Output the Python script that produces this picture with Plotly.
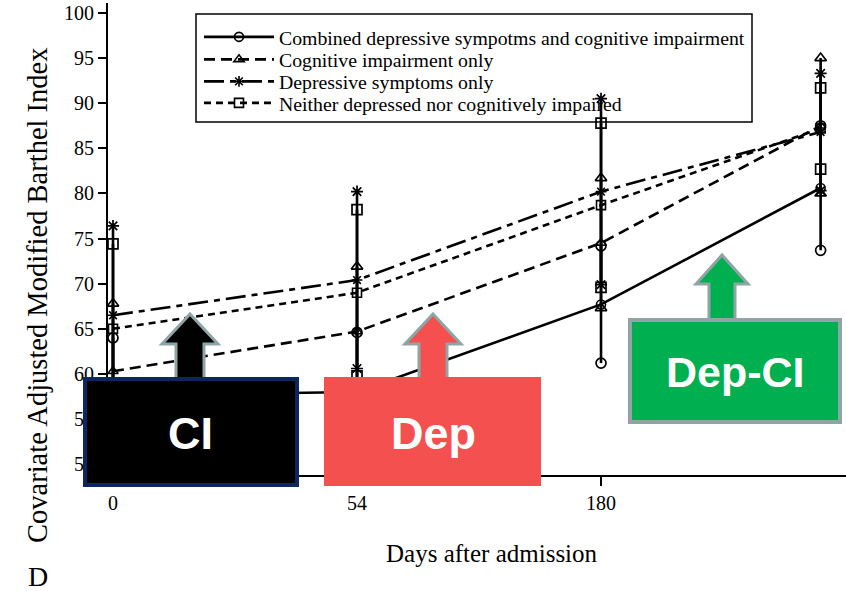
import plotly.graph_objects as go

# ---------------- data ----------------
day_labels = ["0", "54", "180"]
visit_pos = [0, 1, 2, 2.9]          # position of each visit on the x axis

series_names = [
    "Combined depressive sympotms and cognitive impairment",
    "Cognitive impairment only",
    "Depressive symptoms only",
    "Neither depressed nor cognitively impaired",
]
combined_mean = [57.6, 58.0, 67.7, 80.6]
combined_err = [6.4, 6.6, 6.5, 6.9]
ci_mean = [60.3, 64.7, 74.5, 87.5]
ci_err = [7.5, 7.2, 7.2, 7.5]
dep_mean = [66.5, 70.4, 80.2, 86.8]
dep_err = [9.9, 9.8, 10.3, 6.5]
neither_mean = [65.0, 69.0, 78.7, 87.2]
neither_err = [9.4, 9.2, 9.1, 4.5]

y_ticks = [50, 55, 60, 65, 70, 75, 80, 85, 90, 95, 100]

# ---------------- styles ----------------
SERIF = "Liberation Serif, Times New Roman, serif"
SANS = "Liberation Sans, Arial, sans-serif"
W, H = 846, 591
ML, MR, MT, MB = 108, 0, 3, 116
PW, PH = W - ML - MR, H - MT - MB


def px(x):
    return (x - ML) / PW


def py(y):
    return (H - MB - y) / PH


styles = [
    dict(symbol="circle-open", dash="solid"),
    dict(symbol="triangle-up-open", dash="11px,6px"),
    dict(symbol="asterisk-open", dash="20px,6px,6px,6px"),
    dict(symbol="square-open", dash="7px,5px"),
]
means = [combined_mean, ci_mean, dep_mean, neither_mean]
errs = [combined_err, ci_err, dep_err, neither_err]
legend_ids = ["legend", "legend2", "legend3", "legend4"]
legend_rows = [37, 59.5, 81.5, 103]

fig = go.Figure()
for name, m, e, st, lg in zip(series_names, means, errs, styles, legend_ids):
    fig.add_trace(go.Scatter(
        x=visit_pos, y=m, name=name, mode="lines+markers", legend=lg,
        line=dict(color="black", width=2.6, dash=st["dash"]),
        marker=dict(symbol=st["symbol"], size=9, color="black",
                    line=dict(color="black", width=1.6)),
        error_y=dict(type="data", array=e, visible=True, color="black",
                     thickness=2.6, width=0),
    ))
    ends_x = visit_pos + visit_pos
    ends_y = [a + b for a, b in zip(m, e)] + [a - b for a, b in zip(m, e)]
    fig.add_trace(go.Scatter(
        x=ends_x, y=ends_y, mode="markers", showlegend=False,
        marker=dict(symbol=st["symbol"], size=10, color="black",
                    line=dict(color="black", width=1.7)),
        hoverinfo="skip",
    ))

# ---------------- overlay boxes & arrows ----------------
GRAY = "#8FA5A5"
RED = "#F45050"
GREEN = "#00B050"
NAVY = "#0E2660"


def arrow_path(cx, tip, base, bottom, hw, sw):
    pts = [(cx, tip), (cx + hw, base), (cx + sw, base), (cx + sw, bottom),
           (cx - sw, bottom), (cx - sw, base), (cx - hw, base)]
    return "M " + " L ".join(f"{px(a):.5f},{py(b):.5f}" for a, b in pts) + " Z"


shapes = []
# legend frame
shapes.append(dict(type="rect", xref="paper", yref="paper", layer="below",
                   x0=px(196), x1=px(752), y0=py(122), y1=py(14),
                   fillcolor="rgba(0,0,0,0)", line=dict(color="black", width=1.5)))
# arrows (drawn first so boxes cover their stems)
shapes.append(dict(type="path", xref="paper", yref="paper",
                   path=arrow_path(190, 314, 344, 382, 28, 14),
                   fillcolor="black", line=dict(color=GRAY, width=3)))
shapes.append(dict(type="path", xref="paper", yref="paper",
                   path=arrow_path(433, 314, 344, 382, 28, 14),
                   fillcolor=RED, line=dict(color=GRAY, width=3)))
shapes.append(dict(type="path", xref="paper", yref="paper",
                   path=arrow_path(722, 255, 284, 322, 26, 13),
                   fillcolor=GREEN, line=dict(color=GRAY, width=3)))
# boxes
shapes.append(dict(type="rect", xref="paper", yref="paper",
                   x0=px(85), x1=px(297), y0=py(485), y1=py(379),
                   fillcolor="black", line=dict(color=NAVY, width=4)))
shapes.append(dict(type="rect", xref="paper", yref="paper",
                   x0=px(324), x1=px(541), y0=py(486), y1=py(377),
                   fillcolor=RED, line=dict(width=0)))
shapes.append(dict(type="rect", xref="paper", yref="paper",
                   x0=px(630), x1=px(840), y0=py(422), y1=py(320),
                   fillcolor=GREEN, line=dict(color=GRAY, width=4)))


def ann(text, x, y, size, family, angle=0):
    return dict(text=text, x=px(x), y=py(y), xref="paper", yref="paper",
                xanchor="center", yanchor="middle", textangle=angle,
                showarrow=False, font=dict(family=family, size=size, color="black"))


annotations = [
    ann("Covariate Adjusted Modified Barthel Index", 37, 296, 28.5, SERIF, -90),
    ann("Days after admission", 492, 553, 25, SERIF),
    ann("D", 38, 576, 28, SERIF),
]
for text, x, y, size in [("<b>CI</b>", 190, 433, 45), ("<b>Dep</b>", 433, 433, 45),
                         ("<b>Dep-CI</b>", 735, 372, 43)]:
    a = ann(text, x, y, size, SANS)
    a["font"]["color"] = "white"
    annotations.append(a)

layout_legends = {}
for lg, row in zip(legend_ids, legend_rows):
    layout_legends[lg] = dict(
        x=px(199), y=py(row), xanchor="left", yanchor="middle",
        bgcolor="rgba(0,0,0,0)", borderwidth=0,
        font=dict(family=SERIF, size=19.8, color="black"),
        itemwidth=70)

fig.update_layout(
    width=W, height=H,
    margin=dict(l=ML, r=MR, t=MT, b=MB, pad=0),
    paper_bgcolor="white", plot_bgcolor="white",
    showlegend=True,
    shapes=shapes,
    annotations=annotations,
    xaxis=dict(range=[-0.0205, 3.004], tickmode="array",
               tickvals=visit_pos[:3], ticktext=day_labels,
               showline=True, linecolor="black", linewidth=2,
               ticks="outside", ticklen=9, tickwidth=2, tickcolor="black",
               showgrid=False, zeroline=False,
               tickfont=dict(family=SERIF, size=20, color="black")),
    yaxis=dict(range=[48.8, 101.1], tickmode="array", tickvals=y_ticks,
               showline=True, linecolor="black", linewidth=2,
               ticks="outside", ticklen=8, tickwidth=2, tickcolor="black",
               showgrid=False, zeroline=False,
               tickfont=dict(family=SERIF, size=20, color="black")),
    **layout_legends,
)

fig.write_html("out.html")
